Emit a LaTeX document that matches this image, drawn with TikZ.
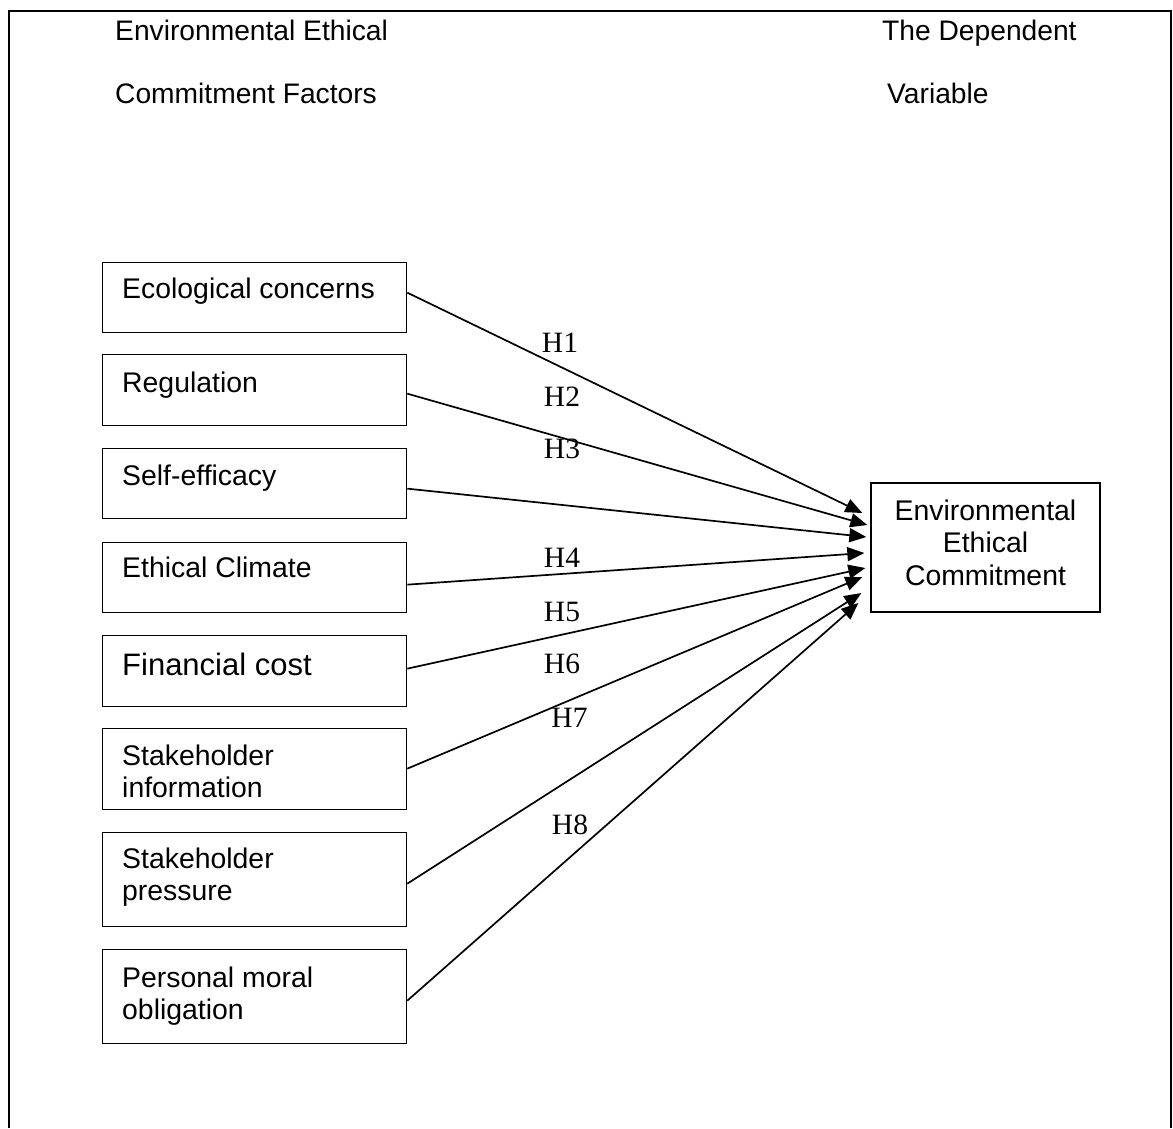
\documentclass[tikz,border=0pt]{standalone}
\usepackage{fontspec}
\setmainfont{Liberation Sans}
\newfontfamily\hfont{Liberation Serif}
\usetikzlibrary{arrows.meta,calc}
\begin{document}
\begin{tikzpicture}[x=1pt,y=-1pt,
 frame/.style={line width=2pt},
 box/.style={draw, line width=1.3pt, anchor=north west, minimum width=304pt, inner sep=0pt},
 lbl/.style={anchor=base west, inner sep=0pt, font=\fontsize{28.4}{32.5}\selectfont},
 mlbl/.style={anchor=north west, inner sep=0pt, align=left, font=\fontsize{28.4}{32.5}\selectfont},
 ttl/.style={anchor=base west, inner sep=0pt, font=\fontsize{28.2}{32}\selectfont},
 hyp/.style={anchor=base, inner sep=0pt, font=\hfont\fontsize{29.5}{32}\selectfont},
 conn/.style={line width=1.7pt, -{Triangle[length=17pt,width=14pt]}},
]
\useasboundingbox (0,0) rectangle (1173,1128);
\draw[frame] (8.5,1128) -- (8.5,11) -- (1171,11) -- (1171,1128);

% titles
\node[ttl] (t1) at (115,40) {Environmental Ethical};
\node[ttl] (t2) at (115,103) {Commitment Factors};
\node[ttl] (t3) at (882,40) {The Dependent};
\node[ttl] (t4) at (887,103) {Variable};

% left boxes
\node[box, minimum height=70pt] (eco) at (102,262) {};
\node[lbl] (ecot) at (122,298) {Ecological concerns};
\node[box, minimum height=71pt] (reg) at (102,354) {};
\node[lbl] (regt) at (122,392) {Regulation};
\node[box, minimum height=70pt] (self) at (102,448) {};
\node[lbl] (selft) at (122,485) {Self-efficacy};
\node[box, minimum height=70pt] (eth) at (102,542) {};
\node[lbl] (etht) at (122,577) {Ethical Climate};
\node[box, minimum height=71pt] (fin) at (102,635) {};
\node[lbl, font=\fontsize{31}{34}\selectfont] (fint) at (122,675) {Financial cost};
\node[box, minimum height=81pt] (info) at (102,728) {};
\node[mlbl] (infot) at (122,744.3) {Stakeholder\\information};
\node[box, minimum height=94pt] (pres) at (102,832) {};
\node[mlbl] (prest) at (122,847.3) {Stakeholder\\pressure};
\node[box, minimum height=94pt] (pers) at (102,949) {};
\node[mlbl] (perst) at (122,966.7) {Personal moral\\obligation};

% right box
\node[draw, line width=1.3pt, minimum width=229pt, minimum height=129pt, inner sep=0pt] (dv) at (985.5,547.5) {};
\node[align=center, inner sep=0pt, font=\fontsize{28.4}{32.5}\selectfont] (dvt) at (985.5,542.5) {Environmental\\Ethical\\Commitment};

% connectors
\draw[conn] ($(eco.east)+(0,-5)$) -- ($(dv.west)+(-8,-34.5)$);
\draw[conn] ($(reg.east)+(0,3.5)$) -- ($(dv.west)+(-3,-22.5)$);
\draw[conn] ($(self.east)+(0,5)$) -- ($(dv.west)+(-4,-10.5)$);
\draw[conn] ($(eth.east)+(0,7)$) -- ($(dv.west)+(-6,5.5)$);
\draw[conn] ($(fin.east)+(0,-2.5)$) -- ($(dv.west)+(-5,20.5)$);
\draw[conn] ($(info.east)+(0,-0.5)$) -- ($(dv.west)+(-8,29.5)$);
\draw[conn] ($(pres.east)+(0,4)$) -- ($(dv.west)+(-9,45.5)$);
\draw[conn] ($(pers.east)+(0,4)$) -- ($(dv.west)+(-12,55.5)$);

% hypothesis labels
\node[hyp] (h1) at (560,352) {H1};
\node[hyp] (h2) at (562,406) {H2};
\node[hyp] (h3) at (562,458) {H3};
\node[hyp] (h4) at (562,567) {H4};
\node[hyp] (h5) at (562,621) {H5};
\node[hyp] (h6) at (562,673) {H6};
\node[hyp] (h7) at (569.5,727) {H7};
\node[hyp] (h8) at (570,834) {H8};
\end{tikzpicture}
\end{document}
